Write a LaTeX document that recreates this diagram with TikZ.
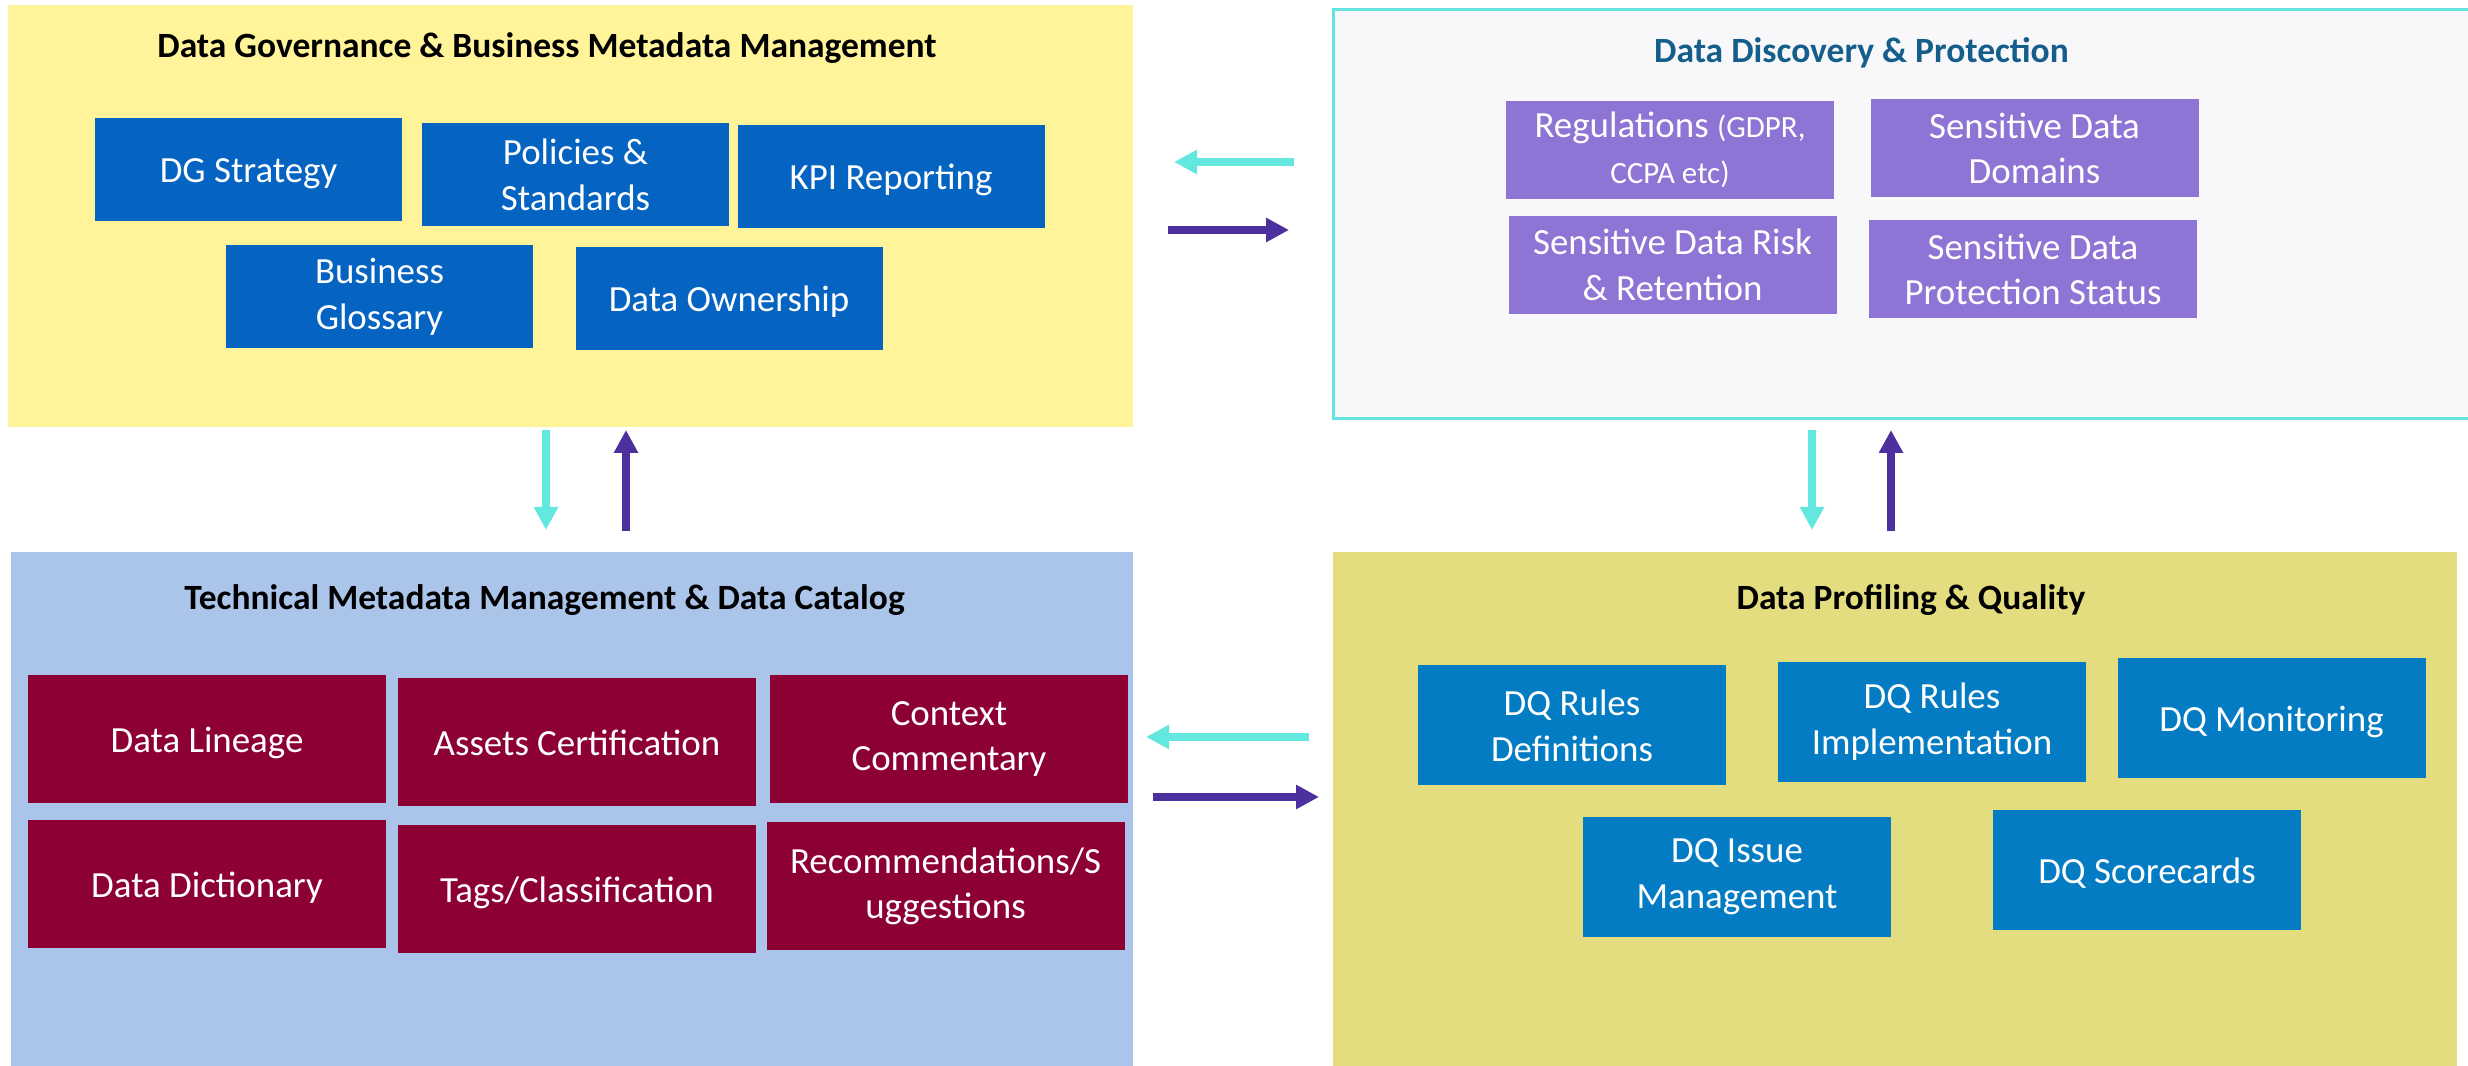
\documentclass[tikz,border=0pt]{standalone}
\usepackage{fontspec}
\setmainfont{Carlito}
\usetikzlibrary{arrows.meta, positioning, calc}
\definecolor{govcolor}{RGB}{255,244,153}
\definecolor{govbox}{RGB}{5,99,193}
\definecolor{disccolor}{RGB}{248,248,250}
\definecolor{discline}{RGB}{99,228,222}
\definecolor{discbox}{RGB}{142,116,212}
\definecolor{disctitle}{RGB}{21,94,140}
\definecolor{techcolor}{RGB}{171,196,234}
\definecolor{techbox}{RGB}{140,0,52}
\definecolor{qualcolor}{RGB}{227,221,128}
\definecolor{qualbox}{RGB}{3,124,196}
\definecolor{backcolor}{RGB}{99,232,224}
\definecolor{fwdcolor}{RGB}{76,48,158}

\begin{document}
\begin{tikzpicture}[
    panel/.style={inner sep=0pt, outer sep=0pt},
    title/.style={anchor=base, font=\fontsize{10.1}{12}\selectfont\bfseries},
    item/.style={inner sep=0pt, outer sep=0pt, text=white, align=center, font=\fontsize{10.5}{13}\selectfont},
    oneline/.style={text height=8.8pt, text depth=1.2pt},
    govitem/.style={item, fill=govbox, minimum width=3.07cm, minimum height=1.03cm},
    discitem/.style={item, fill=discbox, minimum width=3.28cm, minimum height=0.98cm},
    techitem/.style={item, fill=techbox, minimum width=3.58cm, minimum height=1.28cm},
    qualitem/.style={item, fill=qualbox, minimum width=3.08cm, minimum height=1.2cm},
    fwd/.style={-{Triangle[length=2.3mm, width=2.3mm]}, line width=0.8mm, fwdcolor},
    back/.style={-{Triangle[length=2.3mm, width=2.3mm]}, line width=0.8mm, backcolor}
]
    \useasboundingbox (0,0) rectangle (24.68,10.66);

    % Panels
    \node[panel, fill=govcolor, minimum width=11.25cm, minimum height=4.22cm] (gov) at (5.705,8.50) {};
    \node[panel, fill=disccolor, draw=discline, line width=0.85pt, minimum width=11.42cm, minimum height=4.09cm] (disc) at (19.04,8.515) {};
    \node[panel, fill=techcolor, minimum width=11.22cm, minimum height=5.14cm] (tech) at (5.72,2.57) {};
    \node[panel, fill=qualcolor, minimum width=11.24cm, minimum height=5.14cm] (qual) at (18.95,2.57) {};

    % Titles
    \node[title] (govtitle) at (5.47,10.08) {Data Governance \& Business Metadata Management};
    \node[title, text=disctitle] (disctitle) at (18.615,10.03) {Data Discovery \& Protection};
    \node[title] (techtitle) at (5.445,4.56) {Technical Metadata Management \& Data Catalog};
    \node[title] (qualtitle) at (19.11,4.56) {Data Profiling \& Quality};

    % Data governance
    \node[govitem, oneline] (strategy) at (2.485,8.965) {DG Strategy};
    \node[govitem] (policies) at (5.755,8.915) {Policies \&\\Standards};
    \node[govitem, oneline] (kpi) at (8.91,8.895) {KPI Reporting};
    \node[govitem] (glossary) at (3.795,7.695) {Business\\Glossary};
    \node[govitem, oneline] (owner) at (7.29,7.675) {Data Ownership};

    % Discovery and protection
    \node[discitem] (regul) at (16.70,9.16) {Regulations {\fontsize{8.8}{13}\selectfont(GDPR,}\\{\fontsize{8.8}{13}\selectfont CCPA etc)}};
    \node[discitem] (domains) at (20.345,9.175) {Sensitive Data\\Domains};
    \node[discitem] (risk) at (16.725,8.01) {Sensitive Data Risk\\\& Retention};
    \node[discitem] (protect) at (20.33,7.965) {Sensitive Data\\Protection Status};

    % Technical metadata
    \node[techitem, oneline] (lineage) at (2.07,3.27) {Data Lineage};
    \node[techitem, oneline] (certif) at (5.77,3.235) {Assets Certification};
    \node[techitem] (context) at (9.49,3.27) {Context\\Commentary};
    \node[techitem, oneline] (dict) at (2.07,1.815) {Data Dictionary};
    \node[techitem, oneline] (tags) at (5.77,1.765) {Tags/Classification};
    \node[techitem] (recomm) at (9.455,1.795) {Recommendations/S\\uggestions};

    % Profiling and quality
    \node[qualitem] (rulesdef) at (15.72,3.405) {DQ Rules\\Definitions};
    \node[qualitem] (rulesimpl) at (19.32,3.44) {DQ Rules\\Implementation};
    \node[qualitem, oneline] (monitor) at (22.715,3.48) {DQ Monitoring};
    \node[qualitem] (issue) at (17.37,1.89) {DQ Issue\\Management};
    \node[qualitem, oneline] (score) at (21.47,1.96) {DQ Scorecards};

    % Flows between panels
    \draw[back, shorten <=3.9mm, shorten >=4.1mm] (disc.west |- 0,9.04) -- (gov.east |- 0,9.04);
    \draw[fwd, shorten <=3.5mm, shorten >=4.4mm] (gov.east |- 0,8.36) -- (disc.west |- 0,8.36);
    \draw[back, shorten <=0.3mm, shorten >=2.2mm] (gov.south -| 5.46,0) -- (tech.north -| 5.46,0);
    \draw[fwd, shorten <=2.1mm, shorten >=0.3mm] (tech.north -| 6.26,0) -- (gov.south -| 6.26,0);
    \draw[back, shorten <=1.1mm, shorten >=2.2mm] (disc.south -| 18.12,0) -- (qual.north -| 18.12,0);
    \draw[fwd, shorten <=2.1mm, shorten >=1.1mm] (qual.north -| 18.91,0) -- (disc.south -| 18.91,0);
    \draw[back, shorten <=2.4mm, shorten >=1.3mm] (qual.west |- 0,3.29) -- (tech.east |- 0,3.29);
    \draw[fwd, shorten <=2.0mm, shorten >=1.4mm] (tech.east |- 0,2.69) -- (qual.west |- 0,2.69);
\end{tikzpicture}
\end{document}
